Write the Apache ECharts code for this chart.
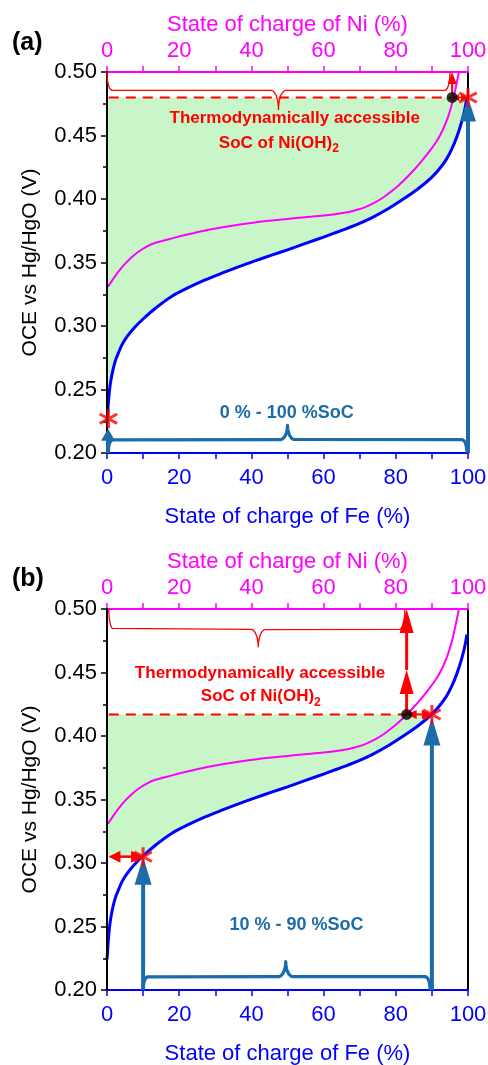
<!DOCTYPE html>
<html><head><meta charset="utf-8">
<script src="https://cdn.jsdelivr.net/npm/echarts/dist/echarts.min.js"></script>
<style>html,body{margin:0;padding:0;background:#fff}#c{width:488px;height:1065px}</style>
</head><body><div id="c"></div>
<script>
// ---------------- data ----------------
const socTicks = [0, 20, 40, 60, 80, 100];
const oceTicks = [0.20, 0.25, 0.30, 0.35, 0.40, 0.45, 0.50];

// Fe electrode OCE vs state of charge of Fe (blue)
const feSoc = [0,0.4,0.9,1.5,2.3,3.2,4.2,5.5,7.5,10,13.4,18,22.5,27.2,32,36.4,41,45.6,50,55,60,64,69,73.3,78,82.5,86,88,90,92,94,95.5,97,98.2,99.1,99.7];
const feOce = [0.224,0.240,0.254,0.2635,0.2725,0.279,0.2855,0.2915,0.2985,0.3055,0.3140,0.3235,0.3302,0.3363,0.3418,0.3466,0.3513,0.3558,0.3600,0.3650,0.3700,0.3742,0.3797,0.3852,0.3925,0.4007,0.4077,0.4122,0.4172,0.4234,0.4312,0.4392,0.4497,0.4603,0.4705,0.4800];
// Ni electrode OCE vs state of charge of Ni (magenta)
const niSoc = [0.3,1,2.3,3.5,5.1,7,8.7,11,13.4,18,22.5,27.2,32,36.4,41,45.6,50,54.8,60,64,67,69.6,72,74.5,77,79.5,82,84.5,87,89.5,91.5,93,94.3,95.5,96.5,97.3,97.5];
const niOce = [0.331,0.334,0.3395,0.344,0.3493,0.3545,0.3585,0.3625,0.3655,0.3690,0.3722,0.3752,0.3777,0.3797,0.3815,0.3830,0.3843,0.3856,0.3870,0.3884,0.3898,0.3917,0.3942,0.3977,0.4022,0.4076,0.4140,0.4213,0.4293,0.4383,0.4463,0.4543,0.4633,0.4743,0.4863,0.4975,0.5000];

// panel (a) annotations: 0 % - 100 % window
const aWindow = [0, 100];
const aCutV = 0.48;          // accessible potential (dashed line)
const aLowV = 0.227;          // potential at 0 % Fe
const aNiDot = [95.6, 0.48];
const aStars = [[100, 0.48], [0.4, 0.227]];
const aNote = ['Thermodynamically accessible', '{t|SoC of Ni(OH)}{s|2}', '0 % - 100 %SoC'];
const aNotePos = [[52, 0.4635], [47.6, 0.444], [49.8, 0.2313]];

// panel (b) annotations: 10 % - 90 % window
const bWindow = [10, 90];
const bCutV = 0.417;
const bLowV = 0.305;
const bNiDot = [83, 0.417];
const bStars = [[90, 0.417], [10, 0.305]];
const bNote = ['Thermodynamically accessible', '{t|SoC of Ni(OH)}{s|2}', '10 % - 90 %SoC'];
const bNotePos = [[42.4, 0.449], [42.6, 0.431], [52.5, 0.2512]];

// ---------------- styling ----------------
const FONT = '"Liberation Sans", Arial, sans-serif';
const BLUE = '#0000ff', MAG = '#ff00ff', RED = '#ff0000', STEEL = '#1b6ca8', GREEN = '#c8f6c8';
const STAR = 'path://M8.5 0H11.5V20H8.5Z M0.59 6.30L2.09 3.70L19.41 13.70L17.91 16.30Z M17.91 3.70L19.41 6.30L2.09 16.30L0.59 13.70Z';

const zip = (xs, ys) => xs.map((x, i) => [x, ys[i]]);
const fePts = zip(feSoc, feOce);
const niPts = zip(niSoc, niOce);

function brace(x0, x1, yEnd, yLine, yTip, dx, dxTip, mid) {
  const pts = [], n = 10, h = Math.PI / 2;
  for (let i = 0; i <= n; i++) { const t = i / n * h; pts.push([x0 + dx * (1 - Math.cos(t)), yEnd + (yLine - yEnd) * Math.sin(t)]); }
  for (let i = 0; i <= n; i++) { const t = i / n * h; pts.push([mid - dxTip + dxTip * Math.sin(t), yLine + (yTip - yLine) * (1 - Math.cos(t))]); }
  for (let i = n; i >= 0; i--) { const t = i / n * h; pts.push([mid + dxTip - dxTip * Math.sin(t), yLine + (yTip - yLine) * (1 - Math.cos(t))]); }
  for (let i = n; i >= 0; i--) { const t = i / n * h; pts.push([x1 - dx * (1 - Math.cos(t)), yEnd + (yLine - yEnd) * Math.sin(t)]); }
  return pts;
}

function crossX(v) {
  for (let i = 1; i < feOce.length; i++) {
    if (feOce[i] >= v) {
      const t = (v - feOce[i - 1]) / (feOce[i] - feOce[i - 1]);
      return feSoc[i - 1] + t * (feSoc[i] - feSoc[i - 1]);
    }
  }
  return feSoc[feSoc.length - 1];
}
function fillPoly(topV, lowV, clipLow) {
  // region between the dashed potential and the Fe curve
  const xTop = crossX(topV);
  const xLow = clipLow ? crossX(lowV) : feSoc[0];
  const poly = [[0, topV], [xTop, topV]];
  for (let i = fePts.length - 1; i >= 0; i--) if (fePts[i][0] < xTop && fePts[i][0] > xLow) poly.push(fePts[i]);
  poly.push([xLow, clipLow ? lowV : feOce[0]]);
  if (clipLow) poly.push([0, lowV]);
  return poly;
}

function arrowSeries(xi, yi, color, items) {
  return {
    type: 'custom', xAxisIndex: xi, yAxisIndex: yi, z: 5, silent: true, animation: false,
    encode: { x: [0, 2], y: [1, 3] },
    data: items,
    renderItem: function (params, api) {
      const p1 = api.coord([api.value(0), api.value(1)]);
      const p2 = api.coord([api.value(2), api.value(3)]);
      const hw = api.value(4), hl = api.value(5), both = api.value(6) > 0, lw = api.value(7);
      const dx = p2[0] - p1[0], dy = p2[1] - p1[1];
      const len = Math.hypot(dx, dy) || 1, ux = dx / len, uy = dy / len;
      const head = (tip, vx, vy) => {
        const bx = tip[0] - vx * hl, by = tip[1] - vy * hl;
        return { type: 'polygon', shape: { points: [tip, [bx - vy * hw / 2, by + vx * hw / 2], [bx + vy * hw / 2, by - vx * hw / 2]] }, style: { fill: color } };
      };
      const s = both ? [p1[0] + ux * hl * 0.7, p1[1] + uy * hl * 0.7] : p1;
      const e = [p2[0] - ux * hl * 0.7, p2[1] - uy * hl * 0.7];
      const ch = [{ type: 'line', shape: { x1: s[0], y1: s[1], x2: e[0], y2: e[1] }, style: { stroke: color, lineWidth: lw } }, head(p2, ux, uy)];
      if (both) ch.push(head(p1, -ux, -uy));
      return { type: 'group', children: ch };
    }
  };
}

function textSeries(xi, yi, lines, pos) {
  return {
    type: 'custom', xAxisIndex: xi, yAxisIndex: yi, z: 7, silent: true, animation: false,
    encode: { x: 0, y: 1 },
    data: pos.map((p, i) => [p[0], p[1], i]),
    renderItem: function (params, api) {
      const p = api.coord([api.value(0), api.value(1)]);
      const i = api.value(2);
      const isWin = i === 2;
      const color = isWin ? STEEL : RED;
      return {
        type: 'text', x: p[0], y: p[1],
        style: {
          text: lines[i], fill: color, fontFamily: FONT, fontWeight: 'bold', fontSize: isWin ? 18 : 17,
          align: 'center', verticalAlign: 'middle',
          rich: {
            t: { fill: color, fontFamily: FONT, fontWeight: 'bold', fontSize: 17 },
            s: { fill: color, fontFamily: FONT, fontWeight: 'bold', fontSize: 12, padding: [12, 0, 0, 0] }
          }
        }
      };
    }
  };
}

function panelSeries(xb, xt, yl, o) {
  const poly = fillPoly(o.cutV, o.lowV, o.window[0] > 0);
  return [
    { type: 'custom', xAxisIndex: xb, yAxisIndex: yl, z: 1, silent: true, animation: false,
      encode: { x: 0, y: 1 }, data: [[0, o.cutV]],
      renderItem: (params, api) => ({ type: 'polygon', shape: { points: poly.map(p => api.coord(p)) }, style: { fill: GREEN } }) },
    { type: 'line', xAxisIndex: xb, yAxisIndex: yl, data: fePts, showSymbol: false, symbol: 'none', smooth: 0.3,
      lineStyle: { color: BLUE, width: 3 }, z: 3, animation: false },
    { type: 'line', xAxisIndex: xt, yAxisIndex: yl, data: niPts, showSymbol: false, symbol: 'none', smooth: 0.3,
      lineStyle: { color: MAG, width: 2 }, z: 3, animation: false },
    { type: 'line', xAxisIndex: xb, yAxisIndex: yl, data: [[0.5, o.cutV], [o.dot[0], o.cutV]], symbol: 'none',
      lineStyle: { color: RED, width: 2, type: [10, 7] }, z: 4, animation: false },
    { type: 'line', xAxisIndex: xt, yAxisIndex: yl, data: o.redBrace, symbol: 'none',
      lineStyle: { color: RED, width: 1.3 }, z: 4, animation: false },
    { type: 'line', xAxisIndex: xb, yAxisIndex: yl, data: o.blueBrace, symbol: 'none',
      lineStyle: { color: STEEL, width: 3.2, join: 'round' }, z: 4, animation: false },
    arrowSeries(xb, yl, STEEL, o.steelArrows),
    arrowSeries(xb, yl, RED, o.redArrows),
    { type: 'scatter', xAxisIndex: xt, yAxisIndex: yl, data: [o.dot], symbol: 'circle', symbolSize: 11,
      itemStyle: { color: '#000' }, z: 6, animation: false },
    { type: 'scatter', xAxisIndex: xb, yAxisIndex: yl, data: o.stars, symbol: STAR, symbolSize: 19,
      itemStyle: { color: RED }, z: 6, animation: false },
    textSeries(xb, yl, o.note, o.notePos)
  ];
}

const panelA = {
  window: aWindow, cutV: aCutV, lowV: aLowV, dot: aNiDot, stars: aStars, note: aNote, notePos: aNotePos,
  redBrace: brace(0, aNiDot[0] - 0.6, 0.50, 0.4856, 0.470, 1.3, 2.0, 47.5),
  blueBrace: brace(aWindow[0] + 0.3, aWindow[1] - 0.3, 0.20, 0.2105, 0.2218, 1.3, 2.0, (aWindow[0] + aWindow[1]) / 2),
  steelArrows: [[aWindow[1], 0.20, aWindow[1], aCutV, 16, 24, 0, 4], [aWindow[0] + 0.3, 0.20, aWindow[0] + 0.3, 0.219, 14, 12, 0, 4]],
  redArrows: [[aNiDot[0], aCutV + 0.0015, aNiDot[0], 0.50, 9, 12, 0, 2], [aNiDot[0], aCutV, aStars[0][0], aCutV, 7, 7, 1, 1.5]]
};
const panelB = {
  window: bWindow, cutV: bCutV, lowV: bLowV, dot: bNiDot, stars: bStars, note: bNote, notePos: bNotePos,
  redBrace: brace(0.5, 82.5, 0.50, 0.484, 0.4698, 1.3, 2.0, 41.9),
  blueBrace: brace(bWindow[0], bWindow[1] - 0.5, 0.20, 0.2105, 0.2223, 1.3, 2.0, 49.5),
  steelArrows: [[bWindow[0], 0.20, bWindow[0], bLowV, 17, 28, 0, 4], [bWindow[1], 0.20, bWindow[1], bCutV - 0.0025, 17, 28, 0, 4]],
  redArrows: [[bNiDot[0], bCutV, bNiDot[0], 0.452, 14, 24, 0, 3], [bNiDot[0], 0.452, bNiDot[0], 0.50, 14, 24, 0, 3],
              [bNiDot[0], bCutV, bStars[0][0], bCutV, 9, 10, 1, 2], [0.4, bLowV, bStars[1][0], bLowV, 12, 12, 1, 2.5]]
};

function socAxis(gi, pos, color, name, gap, margin) {
  return {
    gridIndex: gi, type: 'value', position: pos,
    min: socTicks[0], max: socTicks[socTicks.length - 1], interval: socTicks[1] - socTicks[0],
    name: name, nameLocation: 'middle', nameGap: gap, nameMoveOverlap: false,
    nameTextStyle: { color: color, fontSize: 22, fontFamily: FONT },
    axisLine: { show: true, onZero: false, lineStyle: { color: color, width: 2 } },
    axisTick: { show: true, inside: false, length: 6, lineStyle: { color: color, width: 1.5 } },
    minorTick: { show: true, splitNumber: 2, length: 6, lineStyle: { color: color, width: 1.5 } },
    axisLabel: { color: color, fontSize: 22, fontFamily: FONT, margin: margin },
    splitLine: { show: false }, minorSplitLine: { show: false }
  };
}
function oceAxis(gi) {
  return {
    gridIndex: gi, type: 'value', position: 'left', z: 4,
    min: oceTicks[0], max: oceTicks[oceTicks.length - 1], interval: Math.round((oceTicks[1] - oceTicks[0]) * 1000) / 1000,
    name: 'OCE vs Hg/HgO (V)', nameLocation: 'middle', nameGap: 66, nameMoveOverlap: false,
    nameTextStyle: { color: '#000', fontSize: 21, fontFamily: FONT },
    axisLine: { show: true, onZero: false, lineStyle: { color: '#000', width: 2 } },
    axisTick: { show: true, inside: false, length: 6, lineStyle: { color: '#000', width: 1.5 } },
    minorTick: { show: true, splitNumber: 2, length: 4, lineStyle: { color: '#000', width: 1.5 } },
    axisLabel: { color: '#000', fontSize: 22, fontFamily: FONT, margin: 10, formatter: v => v.toFixed(2) },
    splitLine: { show: false }, minorSplitLine: { show: false }
  };
}
function frameAxis(gi) {
  return {
    gridIndex: gi, type: 'value', position: 'right',
    min: oceTicks[0], max: oceTicks[oceTicks.length - 1],
    axisLine: { show: true, onZero: false, lineStyle: { color: '#000', width: 2 } },
    axisTick: { show: false }, axisLabel: { show: false }, splitLine: { show: false }
  };
}

const chart = echarts.init(document.getElementById('c'), null, { renderer: 'canvas' });
chart.setOption({
  backgroundColor: '#fff',
  animation: false,
  grid: [
    { left: 107, top: 72, width: 361, height: 381, containLabel: false, outerBoundsMode: 'none' },
    { left: 107, top: 609, width: 361, height: 381, containLabel: false, outerBoundsMode: 'none' }
  ],
  xAxis: [
    socAxis(0, 'bottom', BLUE, 'State of charge of Fe (%)', 53, 14),
    socAxis(0, 'top', MAG, 'State of charge of Ni (%)', 36, 10),
    socAxis(1, 'bottom', BLUE, 'State of charge of Fe (%)', 53, 14),
    socAxis(1, 'top', MAG, 'State of charge of Ni (%)', 36, 10)
  ],
  yAxis: [oceAxis(0), frameAxis(0), oceAxis(1), frameAxis(1)],
  graphic: [
    { type: 'text', left: 12, top: 31, style: { text: '(a)', fill: '#000', font: 'bold 25px ' + FONT } },
    { type: 'text', left: 12, top: 567, style: { text: '(b)', fill: '#000', font: 'bold 25px ' + FONT } }
  ],
  series: [].concat(panelSeries(0, 1, 0, panelA), panelSeries(2, 3, 2, panelB))
});
</script></body></html>
